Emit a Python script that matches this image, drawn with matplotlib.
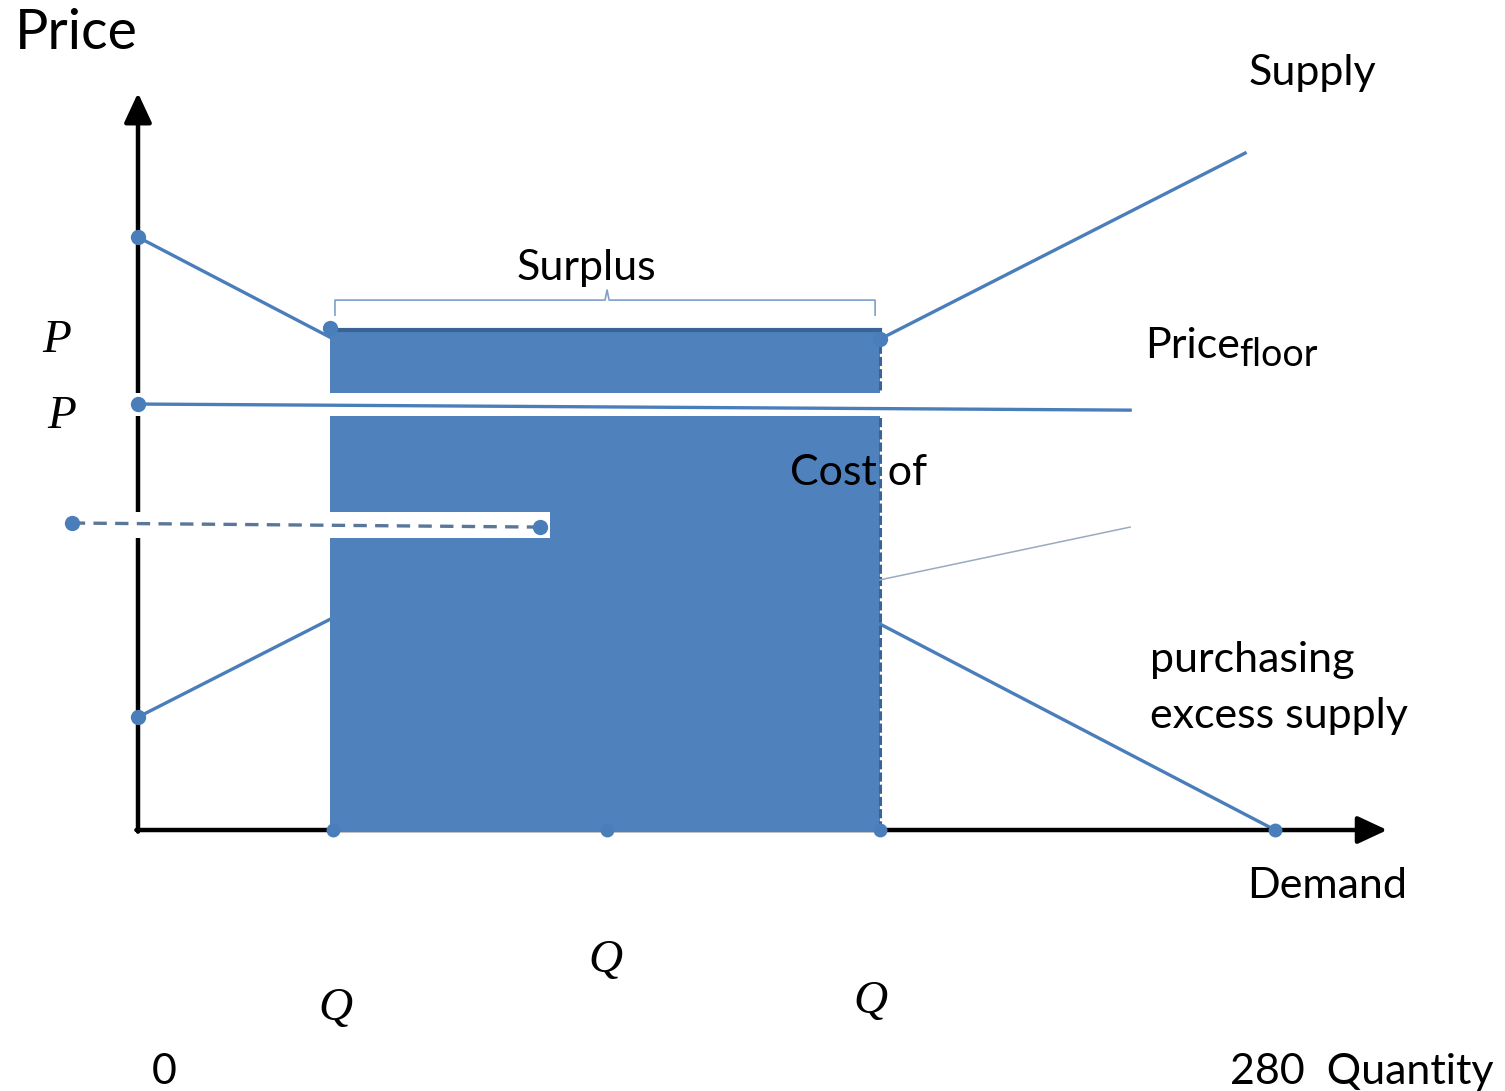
import matplotlib
matplotlib.use('Agg')
import matplotlib.pyplot as plt
from matplotlib.patches import Rectangle

# ---- data (quantity / price units) ----
demand_q = [0, 280]
demand_p = [146, 0]
supply_q = [0, 272.6]
supply_p = [27.8, 166.7]
floor_q = [0, 244.3]
floor_p = [104.9, 103.4]
dash_q = [-16.3, 99.0]
dash_p = [75.6, 74.6]
cost_q = [182.7, 244.3]
cost_p = [61.6, 74.6]
surplus_q = [47.3, 182.7]
surplus_top = 123.1
axis_dots_q = [48, 115.5, 182.7, 280]
corner_dots_q = [47.3, 182.7]
corner_dots_p = [123.6, 120.9]
q_max = 307.6
p_max = 181.5

blue = '#4F81BD'
line_blue = '#4A7EBB'
dark_blue = '#3B6496'

fig = plt.figure(figsize=(15.05, 10.91), dpi=100)
ax = fig.add_axes([0, 0, 1, 1])
ax.set_xlim(-33.98, 336.6)
ax.set_ylim(-64.27, 204.4)
ax.axis('off')

sans = ['Lato', 'DejaVu Sans']
serif = ['Liberation Serif', 'DejaVu Serif']

# axes with arrows
arr = dict(arrowstyle='-|>,head_length=0.9,head_width=0.42', color='black',
           lw=3.2, mutation_scale=20, shrinkA=0, shrinkB=0)
ax.annotate('', xy=(0, p_max), xytext=(0, -0.4), arrowprops=arr, zorder=2)
ax.annotate('', xy=(q_max, 0), xytext=(-0.4, 0), arrowprops=arr, zorder=2)

# supply / demand
ax.plot(demand_q, demand_p, color=line_blue, lw=2.4, zorder=1)
ax.plot(supply_q, supply_p, color=line_blue, lw=2.4, zorder=1)

# surplus block
ax.add_patch(Rectangle((surplus_q[0], -0.5), surplus_q[1] - surplus_q[0], surplus_top + 0.5,
                       facecolor=blue, edgecolor='none', zorder=3))
ax.plot(surplus_q, [surplus_top, surplus_top], color=dark_blue, lw=3, zorder=3.5)
ax.plot([surplus_q[1], surplus_q[1]], [0, surplus_top], color=dark_blue, lw=2.2,
        ls=(0, (3, 1)), zorder=3.5)

# white bands
ax.add_patch(Rectangle((-2, 101.9), 246.3, 5.7, facecolor='white', edgecolor='none', zorder=4))
ax.add_patch(Rectangle((-18.7, 71.9), 120.2, 6.4, facecolor='white', edgecolor='none', zorder=4))

# price floor, dashed line, thin line
ax.plot(floor_q, floor_p, color=line_blue, lw=2.4, zorder=5)
ax.plot(dash_q, dash_p, color='#5A7799', lw=2.4, ls=(0, (4, 2.5)), zorder=5)
ax.plot(cost_q, cost_p, color='#9AAAC0', lw=1.1, zorder=5)

# surplus brace
ax.plot([48.5, 48.5, 115, 115.5, 116, 181.5, 181.5],
        [126.8, 130.5, 130.5, 133, 130.5, 130.5, 126.8], color='#7F9FCB', lw=1.2, zorder=5)

# dots
ax.plot([0, 0, 0, dash_q[0], dash_q[1]] + corner_dots_q,
        [demand_p[0], floor_p[0], supply_p[0], dash_p[0], dash_p[1]] + corner_dots_p,
        'o', color=line_blue, ms=10, zorder=6, lw=0)
ax.plot(axis_dots_q, [0] * len(axis_dots_q), 'o', color=line_blue, ms=9, zorder=6)

# text
fs = 31
ax.text(-30.3, 192.3, 'Price', fontsize=40, family=sans, va='baseline')
ax.text(273.4, 183.5, 'Supply', fontsize=fs, family=sans, va='baseline')
ax.text(93.3, 135.5, 'Surplus', fontsize=fs, family=sans, va='baseline')
ax.text(248, 116.2, 'Price', fontsize=fs, family=sans, va='baseline')
ax.text(271.2, 114.3, 'floor', fontsize=27, family=sans, va='baseline')
ax.text(160.6, 85, 'Cost of', fontsize=fs, family=sans, va='baseline', zorder=7)
ax.text(249.2, 39, 'purchasing', fontsize=fs, family=sans, va='baseline')
ax.text(249.2, 25, 'excess supply', fontsize=fs, family=sans, va='baseline')
ax.text(273.1, -16.7, 'Demand', fontsize=fs, family=sans, va='baseline')
ax.text(3.4, -62.5, '0', fontsize=fs, family=sans, va='baseline')
ax.text(268.9, -62.5, '280  Quantity', fontsize=fs, family=sans, va='baseline')

ax.text(-23.6, 117.7, 'P', fontsize=34, family=serif, style='italic', va='baseline')
ax.text(-22.4, 99, 'P', fontsize=34, family=serif, style='italic', va='baseline')
ax.text(44.3, -46.8, 'Q', fontsize=34, family=serif, style='italic', va='baseline')
ax.text(110.8, -35, 'Q', fontsize=34, family=serif, style='italic', va='baseline')
ax.text(176.1, -45, 'Q', fontsize=34, family=serif, style='italic', va='baseline')

fig.savefig('out.png', dpi=100)
